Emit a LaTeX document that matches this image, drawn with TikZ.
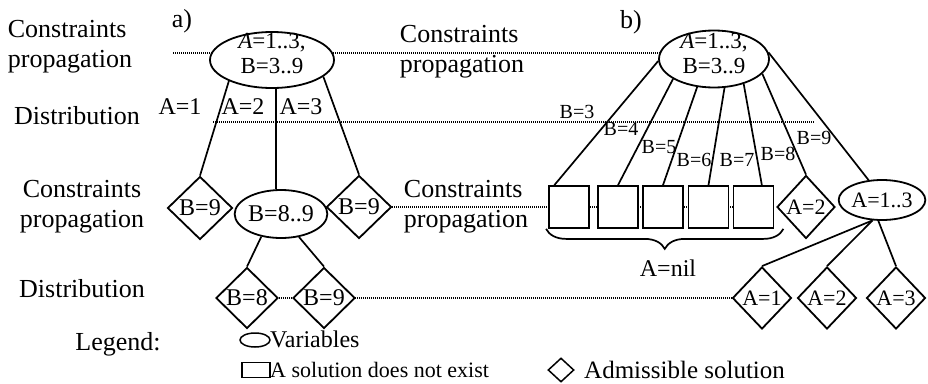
\documentclass[tikz,border=0pt]{standalone}
\usepackage{fontspec}
\setmainfont{Liberation Serif}
\usetikzlibrary{shapes.geometric,decorations.pathreplacing,calc}
\pgfdeclarelayer{bg}
\pgfsetlayers{bg,main}
\begin{document}
\begin{tikzpicture}[x=1pt,y=-1pt,inner sep=0pt,
  var/.style={ellipse, draw, line width=1.8pt, fill=white, inner sep=0pt},
  sol/.style={diamond, draw, line width=1.8pt, fill=white, inner sep=0pt, aspect=1},
  nosol/.style={rectangle, draw, line width=1.8pt, fill=white, inner sep=0pt, minimum width=40pt, minimum height=42pt},
  link/.style={line width=1.7pt},
  guide/.style={line width=1.2pt, dash pattern=on 1pt off 1pt},
  fBig/.style={font=\fontsize{26}{30}\selectfont},
  fMid/.style={font=\fontsize{24}{26}\selectfont},
  fTop/.style={font=\fontsize{23}{25}\selectfont},
  fRt/.style={font=\fontsize{22}{24}\selectfont},
  fSm/.style={font=\fontsize{20}{22}\selectfont}
]
\useasboundingbox (0,0) rectangle (928,383);

% row labels
\node[fBig, align=left] (cp1) at (70,47) {Constraints\\propagation};
\node[fBig] (ds1) at (77,116) {Distribution};
\node[fBig, align=center] (cp3) at (82,207) {Constraints\\propagation};
\node[fBig] (ds2) at (82,289) {Distribution};
\node[fBig] (lg) at (118,344) {Legend:};
\node[fBig, align=left] (cp2) at (462,52) {Constraints\\propagation};
\node[fBig, align=left] (cp4) at (466,207) {Constraints\\propagation};

% part a)
\node[fBig] (la) at (182,21) {a)};
\node[var, minimum width=124pt, minimum height=56pt] (ta) at (272,60) {};
\node[fTop, align=center] (tat) at (272,54) {\textit{A}=1..3,\\B=3..9};
\node[sol, minimum width=65pt, minimum height=63pt, fMid] (d1) at (200,208) {B=9};
\node[var, minimum width=92pt, minimum height=48pt, fMid] (e2) at (281,214) {B=8..9};
\node[sol, minimum width=65pt, minimum height=63pt, fMid] (d3) at (359,207) {B=9};
\node[sol, minimum width=62pt, minimum height=61pt, fMid] (d4) at (247,298) {B=8};
\node[sol, minimum width=62pt, minimum height=61pt, fMid] (d5) at (324,298) {B=9};
\node[fMid] (lA1) at (180,107) {A=1};
\node[fMid] (lA2) at (243,107) {A=2};
\node[fMid] (lA3) at (301,107) {A=3};

% part b)
\node[fBig] (lb) at (631,22) {b)};
\node[var, minimum width=110pt, minimum height=57pt] (tb) at (714,59) {};
\node[fTop, align=center] (tbt) at (714,54) {\textit{A}=1..3,\\B=3..9};
\node[nosol] (sq1) at (569,207) {};
\node[nosol] (sq2) at (618,207) {};
\node[nosol] (sq3) at (663,207) {};
\node[nosol] (sq4) at (708.5,207) {};
\node[nosol] (sq5) at (753.5,207) {};
\node[sol, minimum width=58pt, minimum height=63pt, fRt] (bA2) at (806,207) {A=2};
\node[var, minimum width=86pt, minimum height=40pt, fRt] (bE) at (882,200) {A=1..3};
\node[sol, minimum width=59pt, minimum height=62pt, fRt] (bA1) at (762,298) {A=1};
\node[sol, minimum width=59pt, minimum height=62pt, fRt] (bB2) at (827,298) {A=2};
\node[sol, minimum width=59pt, minimum height=62pt, fRt] (bB3) at (896,298) {A=3};
\node[fSm] (lB3) at (577,112) {B=3};
\node[fSm] (lB4) at (621,129) {B=4};
\node[fSm] (lB5) at (659,147) {B=5};
\node[fSm] (lB6) at (694,160) {B=6};
\node[fSm] (lB7) at (737,160) {B=7};
\node[fSm] (lB8) at (778,154) {B=8};
\node[fSm] (lB9) at (814,138) {B=9};
\node[fMid] (anil) at (668,268) {A=nil};

% legend
\node[var, minimum width=30pt, minimum height=14pt, line width=1.5pt] (lgE) at (255,340) {};
\node[fMid, anchor=base west] (lgEt) at (270,347) {Variables};
\node[nosol, minimum width=28pt, minimum height=15pt, line width=1.5pt] (lgS) at (256,370) {};
\node[fRt, anchor=base west] (lgSt) at (270,377) {A solution does not exist};
\node[sol, minimum width=26pt, minimum height=24pt, line width=1.5pt] (lgD) at (561,370) {};
\node[font=\fontsize{25}{27}\selectfont, anchor=base west] (lgDt) at (584,378) {Admissible solution};

% guide lines
\begin{pgfonlayer}{bg}
\coordinate (g1) at (173,53);
\draw[guide] (g1) -- (g1 -| tb.center);
\coordinate (g2a) at (213,122);
\coordinate (g2b) at (815,122);
\draw[guide] (g2a) -- (g2b);
\draw[guide] (d3.east) -- (d3.east -| sq5.center);
\draw[guide] (d4.east) -- (bA1.west);
\end{pgfonlayer}

% connectors a)
\coordinate (vx) at (276,0);
\draw[link] (ta.206) -- (d1.north);
\draw[link] (ta.south -| vx) -- (e2.north -| vx);
\draw[link] (ta.342) -- (d3.north);
\draw[link] (e2.229) -- (d4.north);
\draw[link] (e2.308) -- (d5.north);

% connectors b)
\draw[link] (tb.182) -- ($(sq1.north west)!0.15!(sq1.north east)$);
\draw[link] (tb.206) -- (sq2.north);
\draw[link] (tb.239) -- (sq3.north);
\draw[link] (tb.290) -- (sq4.north);
\draw[link] (tb.320) -- ($(sq5.north west)!0.7!(sq5.north east)$);
\draw[link] (tb.343) -- (bA2.north);
\draw[link] (tb.7) -- (bE.124);
\draw[link] (bE.245) -- (bA1.north);
\draw[link] (bE.245) -- (bB2.north);
\draw[link] (bE.260) -- (bB3.north);

% brace
\coordinate (brL) at ($(sq1.south west)+(-2,0)$);
\coordinate (brR) at ($(sq5.south east)+(9,0)$);
\draw[link, decorate, decoration={brace, mirror, amplitude=20pt}] (brL) -- (brR);
\end{tikzpicture}
\end{document}
